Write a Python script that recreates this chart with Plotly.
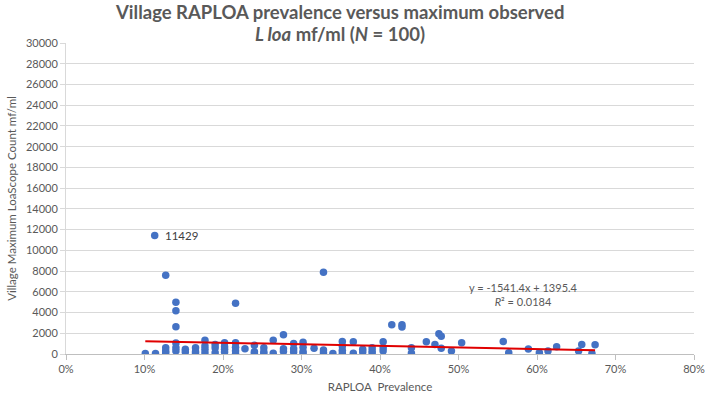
import plotly.graph_objects as go

# RAPLOA prevalence (%) and village maximum LoaScope count (mf/ml)
prevalence = [
    10.1,
    11.4, 11.3,
    12.7, 12.7, 12.7, 12.7,
    14.0, 14.0, 14.0, 14.0, 14.0, 14.0,
    15.2, 15.2,
    16.5, 16.5, 16.5,
    17.7, 17.7, 17.7, 17.7,
    19.0, 19.0, 19.0,
    20.2, 20.2, 20.2, 20.2,
    21.6, 21.6, 21.6, 21.6, 21.6,
    22.8,
    24.0, 24.0, 24.0,
    25.2, 25.2, 25.2,
    26.4, 26.4,
    27.7, 27.7, 27.7,
    29.0, 29.0, 29.0,
    30.2, 30.2, 30.2, 30.2,
    31.6,
    32.8, 32.8, 32.8,
    34.0,
    35.2, 35.2, 35.2, 35.2,
    36.6, 36.6,
    37.8, 37.8,
    39.0, 39.0, 39.0,
    40.4, 40.4, 40.4,
    41.5,
    42.8, 42.8,
    44.0, 44.0,
    45.9,
    47.0,
    47.5,
    47.8, 47.8,
    49.1,
    50.4,
    55.7,
    56.4,
    58.9,
    60.3,
    61.4,
    62.5,
    65.3,
    65.7,
    67.0,
    67.4,
]
max_count = [
    50,
    50, 11429,
    7590, 600, 300, 100,
    4980, 4160, 2640, 1050, 600, 300,
    450, 190,
    600, 220, 30,
    1330, 760, 450, 130,
    920, 600, 130,
    1080, 700, 450, 190,
    4900, 1080, 650, 290, 30,
    500,
    850, 220, 50,
    600, 220, 30,
    1330, 70,
    1850, 500, 250,
    1020, 500, 190,
    1140, 650, 250, 50,
    550,
    7880, 380, 130,
    50,
    1200, 760, 350, 70,
    1170, 70,
    450, 190,
    600, 290, 70,
    1170, 600, 290,
    2830,
    2830, 2600,
    600, 70,
    1170,
    920,
    1950,
    1710, 560,
    290,
    1080,
    1200,
    130,
    480,
    130,
    290,
    700,
    290,
    920,
    50,
    900,
]

# Linear trendline reported on the chart
trend_slope = -1541.4
trend_intercept = 1395.4
trend_r2 = 0.0184
labelled_value = 11429

title_lines = [
    "<b>Village RAPLOA prevalence versus maximum observed</b>",
    "<b><i>L loa</i> mf/ml (<i>N</i> = 100)</b>",
]

x_ticks = [0, 10, 20, 30, 40, 50, 60, 70, 80]
x_tick_labels = ["0%", "10%", "20%", "30%", "40%", "50%", "60%", "70%", "80%"]
y_ticks = list(range(0, 30001, 2000))

x_frac = [p / 100 for p in prevalence]
x_min, x_max = min(x_frac), max(x_frac)
trend_x = [x_min * 100, x_max * 100]
trend_y = [trend_slope * x_min + trend_intercept, trend_slope * x_max + trend_intercept]

FONT = "Lato, 'Open Sans', sans-serif"
GRAY = "#595959"

fig = go.Figure()
fig.add_trace(go.Scatter(
    x=prevalence, y=max_count, mode="markers",
    marker=dict(color="#4472C4", size=7.5, line=dict(width=0)),
    showlegend=False, hoverinfo="x+y",
))
fig.add_trace(go.Scatter(
    x=trend_x, y=trend_y, mode="lines",
    line=dict(color="#E00000", width=2),
    showlegend=False, hoverinfo="skip",
))

idx = max_count.index(labelled_value)
fig.add_annotation(
    x=prevalence[idx], y=labelled_value, text=str(labelled_value),
    showarrow=False, xanchor="left", xshift=8,
    font=dict(family=FONT, size=11.5, color="#404040"),
)
fig.add_annotation(
    x=58.3, y=4200,
    text=f"y = {trend_slope}x + {trend_intercept}<br><i>R</i>² = {trend_r2}",
    showarrow=False, xanchor="center", yanchor="bottom", align="center",
    font=dict(family=FONT, size=11, color=GRAY),
)
# Chart title (two lines placed separately)
for line_text, shift in zip(title_lines, [31, 9]):
    fig.add_annotation(
        xref="paper", yref="paper", x=0.436, y=1, xanchor="center", yanchor="middle",
        yshift=shift, showarrow=False, align="center",
        text=line_text,
        font=dict(family=FONT, size=18.5, color=GRAY),
    )

fig.update_layout(
    width=717, height=403,
    paper_bgcolor="white", plot_bgcolor="white",
    margin=dict(l=63, r=16, t=43, b=45),
    font=dict(family=FONT, color=GRAY),
)
fig.update_xaxes(
    range=[0, 80], tickvals=x_ticks, ticktext=x_tick_labels,
    showgrid=False, zeroline=False,
    showline=True, linecolor="#BFBFBF", linewidth=1,
    ticks="outside", ticklen=5, tickcolor="#BFBFBF",
    tickfont=dict(family=FONT, size=11, color=GRAY),
    title=dict(text="RAPLOA  Prevalence", font=dict(family=FONT, size=11.5, color=GRAY), standoff=8),
)
fig.update_yaxes(
    range=[0, 30000], tickvals=y_ticks, tickformat="d",
    showgrid=True, gridcolor="#D9D9D9", gridwidth=1, zeroline=False,
    showline=True, linecolor="#D9D9D9", linewidth=1,
    ticks="outside", ticklen=5, tickcolor="#D9D9D9",
    tickfont=dict(family=FONT, size=11, color=GRAY),
    title=dict(text="Village Maximum LoaScope Count mf/ml", font=dict(family=FONT, size=11.5, color=GRAY), standoff=6),
)

fig.write_html(
    "out.html",
    config={"displayModeBar": False},
    post_script="document.body.style.margin='0';document.body.style.overflow='hidden';",
)
